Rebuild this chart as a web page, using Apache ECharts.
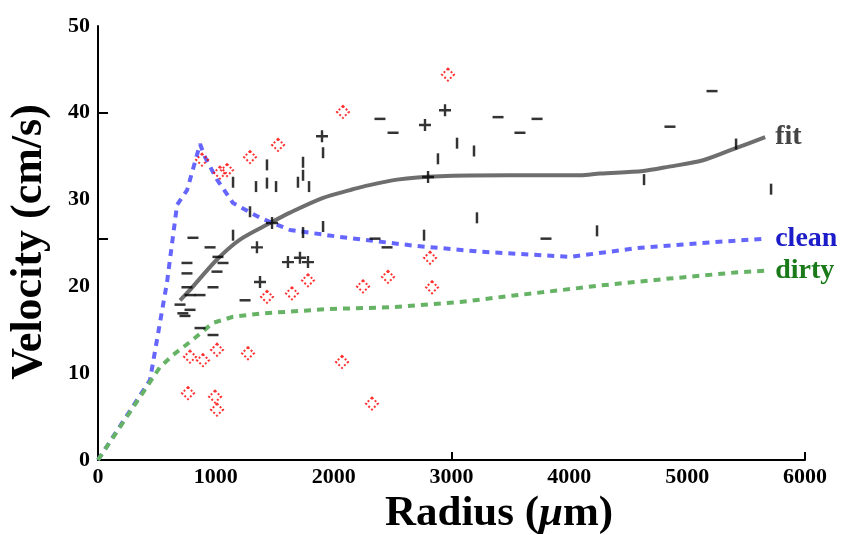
<!DOCTYPE html>
<html>
<head>
<meta charset="utf-8">
<script src="https://cdn.jsdelivr.net/npm/echarts@6/dist/echarts.min.js"></script>
<style>
html, body { margin: 0; padding: 0; background: #fff; }
#divChart { width: 852px; height: 535px; }
</style>
</head>
<body>
<div id="divChart"></div>
<script>
// model curves
var cleanX = [0, 441, 586, 671, 756, 866, 908, 1010, 1146, 1375, 1630, 2054, 2674, 3243, 4007, 4567, 5127, 5662];
var cleanY = [0, 9.2, 20.5, 29.4, 31.1, 36.4, 34.9, 32.3, 29.6, 27.9, 26.5, 25.7, 24.7, 24.0, 23.4, 24.4, 25.0, 25.5];

var dirtyX = [0, 526, 637, 781, 976, 1146, 1401, 1630, 1969, 2504, 3073, 3438, 3947, 4261, 4847, 5407, 5662];
var dirtyY = [0, 10.7, 12.1, 13.6, 15.8, 16.5, 16.9, 17.1, 17.4, 17.6, 18.2, 18.8, 19.6, 20.1, 20.9, 21.6, 21.8];

var fitX = [696, 781, 1010, 1205, 1460, 1630, 1910, 2139, 2250, 2538, 2903, 3500, 4092, 4261, 4626, 4847, 5127, 5407, 5662];
var fitY = [18.4, 19.6, 23.1, 25.4, 27.3, 28.5, 30.2, 31.1, 31.5, 32.3, 32.7, 32.8, 32.8, 33.0, 33.3, 33.8, 34.5, 35.9, 37.2];

// measured points (black: +, - and | marks; red: diamonds)
var plusX = [1901, 1349, 1612, 1714, 1782, 1375, 1477, 2775, 2945, 2801];
var plusY = [37.3, 24.5, 22.8, 23.3, 22.8, 20.5, 27.3, 38.6, 40.3, 32.6];

var hbarX = [806, 951, 755, 1018, 1061, 755, 1010, 976, 755, 781, 866, 1248, 696, 781, 738, 720, 866, 976, 2393, 2504, 3395, 3726, 3581, 2351, 2453, 3802, 5211, 4854];
var hbarY = [25.6, 24.5, 22.7, 23.4, 22.7, 21.5, 21.7, 19.9, 19.9, 19.0, 19.0, 18.4, 17.9, 17.3, 16.6, 16.9, 15.2, 14.4, 39.3, 37.7, 39.5, 39.3, 37.7, 25.5, 24.5, 25.5, 42.5, 38.4];

var vbarX = [1910, 1434, 1740, 1146, 1341, 1434, 1511, 1697, 1740, 1791, 1290, 1910, 1740, 1146, 3047, 3191, 2885, 3216, 2767, 5415, 4634, 5712, 4235];
var vbarY = [35.4, 34.0, 34.3, 32.0, 31.5, 31.9, 31.5, 32.0, 32.8, 31.5, 28.6, 26.9, 26.2, 25.9, 36.5, 35.6, 34.7, 27.9, 25.9, 36.4, 32.3, 31.2, 26.4];

var redX = [1528, 883, 1290, 1035, 1095, 2079, 1782, 1434, 1646, 781, 891, 1010, 1273, 764, 993, 1010, 2071, 2325, 2970, 2818, 2461, 2249, 2835];
var redY = [36.3, 34.6, 34.9, 33.1, 33.4, 40.1, 20.7, 18.8, 19.2, 11.9, 11.5, 12.7, 12.3, 7.7, 7.3, 5.8, 11.3, 6.5, 44.4, 23.3, 21.1, 20.0, 19.9];

var xTicks = [3000, 6000];
var yTicks = [25.5, 40];

var serif = '"Liberation Serif", "DejaVu Serif", serif';

function pairs(xs, ys) {
    var out = [];
    for (var i = 0; i < xs.length; i++) {
        out.push([xs[i], ys[i]]);
    }
    return out;
}

function endLabel(text, color) {
    return {
        show: true,
        formatter: text,
        color: color,
        fontFamily: serif,
        fontWeight: 'bold',
        fontSize: 28,
        distance: 10
    };
}

var myChart = echarts.init(document.getElementById('divChart'));

var option = {
    animation: false,
    backgroundColor: '#fff',
    grid: { left: 98, right: 47, top: 26, bottom: 75 },
    xAxis: {
        type: 'value',
        min: 0,
        max: 6000,
        interval: 1000,
        axisLine: { lineStyle: { color: '#000', width: 2 } },
        axisTick: { show: true, inside: true, length: 8, customValues: xTicks, lineStyle: { color: '#000', width: 2 } },
        axisLabel: {
            color: '#000', fontFamily: serif, fontWeight: 'bold', fontSize: 22, margin: 6,
            formatter: function (v) { return String(v); }
        },
        splitLine: { show: false }
    },
    yAxis: {
        type: 'value',
        min: 0,
        max: 50,
        interval: 10,
        axisLine: { show: true, lineStyle: { color: '#000', width: 2 } },
        axisTick: { show: true, inside: true, length: 10, customValues: yTicks, lineStyle: { color: '#000', width: 2 } },
        axisLabel: { color: '#000', fontFamily: serif, fontWeight: 'bold', fontSize: 22, margin: 8 },
        splitLine: { show: false }
    },
    graphic: [
        {
            type: 'text',
            x: 30,
            y: 242,
            rotation: Math.PI / 2,
            style: {
                text: 'Velocity (cm/s)',
                fill: '#000',
                font: 'bold 44px ' + serif,
                textAlign: 'center',
                textVerticalAlign: 'middle'
            }
        },
        {
            type: 'text',
            x: 499,
            y: 514,
            style: {
                text: '{a|Radius (}{i|\u03bc}{a|m)}',
                textAlign: 'center',
                textVerticalAlign: 'middle',
                rich: {
                    a: { fontFamily: serif, fontWeight: 'bold', fontSize: 43, fill: '#000' },
                    i: { fontFamily: serif, fontWeight: 'bold', fontStyle: 'italic', fontSize: 43, fill: '#000' }
                }
            }
        }
    ],
    series: [
        {
            name: 'fit',
            type: 'line',
            data: pairs(fitX, fitY),
            smooth: 0.3,
            showSymbol: false,
            lineStyle: { color: '#6e6e6e', width: 4 },
            endLabel: endLabel('fit', '#444'),
            z: 2
        },
        {
            name: 'clean',
            type: 'line',
            data: pairs(cleanX, cleanY),
            showSymbol: false,
            lineStyle: { color: '#6666ff', width: 4, type: [7, 6] },
            endLabel: endLabel('clean', '#1c1cc8'),
            z: 3
        },
        {
            name: 'dirty',
            type: 'line',
            data: pairs(dirtyX, dirtyY),
            showSymbol: false,
            lineStyle: { color: '#66b366', width: 4, type: [7, 6] },
            endLabel: endLabel('dirty', '#1a7a1a'),
            z: 3
        },
        {
            name: 'red',
            type: 'scatter',
            data: pairs(redX, redY),
            symbol: 'diamond',
            symbolSize: 12,
            itemStyle: { color: 'rgba(0,0,0,0)', borderColor: '#ff0000', borderWidth: 2, borderType: [2, 2] },
            z: 4
        },
        {
            name: 'plus',
            type: 'scatter',
            data: pairs(plusX, plusY),
            symbol: 'path://M0,4H10V6H0Z M4,0H6V10H4Z',
            symbolSize: 12,
            itemStyle: { color: '#000' },
            z: 5
        },
        {
            name: 'hbar',
            type: 'scatter',
            data: pairs(hbarX, hbarY),
            symbol: 'rect',
            symbolSize: [11, 2.5],
            itemStyle: { color: '#000' },
            z: 5
        },
        {
            name: 'vbar',
            type: 'scatter',
            data: pairs(vbarX, vbarY),
            symbol: 'rect',
            symbolSize: [2.5, 11],
            itemStyle: { color: '#000' },
            z: 5
        }
    ]
};

myChart.setOption(option);
</script>
</body>
</html>
